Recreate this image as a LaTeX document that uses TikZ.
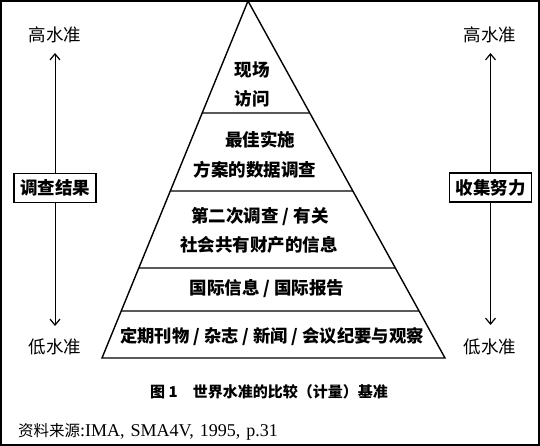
\documentclass[tikz,border=0pt]{standalone}
\usepackage{fontspec}
\setmainfont{Liberation Serif}
\newfontfamily\cjk{Noto Sans CJK SC}
\usetikzlibrary{arrows.meta}
\begin{document}
\begin{tikzpicture}[x=1pt,y=-1pt,
  lvl/.style={font=\cjk\bfseries\fontsize{17.5}{17.5}\selectfont, inner sep=0pt},
  lvlsmall/.style={font=\cjk\bfseries\fontsize{17.3}{17.3}\selectfont, inner sep=0pt},
  side/.style={font=\cjk\fontsize{17.5}{17.5}\selectfont, inner sep=0pt},
  tagbox/.style={draw, line width=1.2pt, font=\cjk\bfseries\fontsize{17.5}{17.5}\selectfont, minimum width=82pt, minimum height=29pt, inner sep=2pt},
  edge/.style={line width=1.4pt},
  vline/.style={line width=1pt, -{Straight Barb[length=6pt,width=10pt,line width=1.2pt]}}
]
\useasboundingbox (0,0) rectangle (540,446);
\draw[line width=1.6pt] (1,1) rectangle (539,445);

% pyramid
\coordinate (A) at (248,1);
\coordinate (BL) at (102,358);
\coordinate (BR) at (445,358);
\draw[edge, line join=miter] (A) -- (BL) -- (BR) -- cycle;
\foreach \y/\n in {113/1,191/2,268/3,311/4}{
  \coordinate (l\n) at (intersection of A--BL and 0,\y--10,\y);
  \coordinate (r\n) at (intersection of A--BR and 0,\y--10,\y);
  \draw[edge] (l\n) -- (r\n);
}

% level texts
\node[lvl] (t1a) at (252,70) {现场};
\node[lvl] (t1b) at (252,99) {访问};
\node[lvl] (t2a) at (260,140) {最佳实施};
\node[lvl] (t2b) at (255,170) {方案的数据调查};
\node[lvl] (t3a) at (260,217) {第二次调查 / 有关};
\node[lvl] (t3b) at (259,245) {社会共有财产的信息};
\node[lvl] (t4) at (267,289) {国际信息 / 国际报告};
\node[lvlsmall] (t5) at (272,337) {定期刊物 / 杂志 / 新闻 / 会议纪要与观察};

% side scales
\node[side] (hiL) at (55,35) {高水准};
\node[side] (loL) at (55,347) {低水准};
\node[side] (hiR) at (490,35) {高水准};
\node[side] (loR) at (490,347) {低水准};
\node[tagbox] (bL) at (55,188) {调查结果};
\node[tagbox] (bR) at (490.5,187.5) {收集努力};
\coordinate (tL) at (55,53);
\coordinate (dL) at (55,326);
\coordinate (tR) at (490.5,53);
\coordinate (dR) at (490.5,325);
\draw[vline] (bL.north) -- (tL);
\draw[vline] (bL.south) -- (dL);
\draw[vline] (bR.north) -- (tR);
\draw[vline] (bR.south) -- (dR);

% caption and source
\node[font=\cjk\bfseries\fontsize{15}{15}\selectfont, inner sep=0pt] (cap) at (269,392) {图 1\quad 世界水准的比较（计量）基准};
\node[anchor=west, inner sep=0pt, font=\fontsize{18}{18}\selectfont] (src) at (18,432) {{\cjk\fontsize{15.5}{15.5}\selectfont 资料来源}:IMA,\,\,SMA4V,\,\,1995,\,\,p.31};
\end{tikzpicture}
\end{document}
